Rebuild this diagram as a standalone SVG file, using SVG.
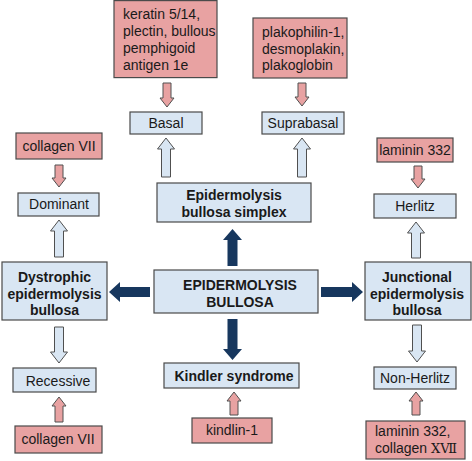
<svg xmlns="http://www.w3.org/2000/svg" width="472" height="461" viewBox="0 0 472 461">
<style>
.pink{fill:#e8a2a2;stroke:#4a4a4a;stroke-width:1.2}
.blue{fill:#d9e6f3;stroke:#4a4a4a;stroke-width:1.2}
.la{fill:#d9e6f3;stroke:#505050;stroke-width:1}
.pa{fill:#e8a2a2;stroke:#505050;stroke-width:1}
.da{fill:#17375e;stroke:none}
text{font-family:"Liberation Sans",Arial,sans-serif;font-size:14px;fill:#1a1a1a}
.c{text-anchor:middle}
.b{font-weight:bold}
</style>
<rect width="472" height="461" fill="#ffffff"/>
<g id="connectors">
<!-- light blue up arrows -->
<path class="la" d="M161.5,177 V149 H157.5 L166,138 L174.5,149 H170.5 V177 Z"/>
<path class="la" d="M297.5,177 V149 H293.5 L302,138 L310.5,149 H306.5 V177 Z"/>
<path class="la" d="M54.5,257 V231 H50.5 L59,220 L67.5,231 H63.5 V257 Z"/>
<path class="la" d="M411.5,258 V233 H407.5 L416,222 L424.5,233 H420.5 V258 Z"/>
<!-- light blue down arrows -->
<path class="la" d="M54.5,327 V352 H50.5 L59,363 L67.5,352 H63.5 V327 Z"/>
<path class="la" d="M412.5,325 V351 H408.5 L417,362 L425.5,351 H421.5 V325 Z"/>
<!-- pink down arrows -->
<path class="pa" d="M163,83 V98 H160 L167,107 L174,98 H171 V83 Z"/>
<path class="pa" d="M298,83 V97 H295 L302,106 L309,97 H306 V83 Z"/>
<path class="pa" d="M55,165 V178 H52 L59,187 L66,178 H63 V165 Z"/>
<path class="pa" d="M414,166 V179 H411 L418,188 L425,179 H422 V166 Z"/>
<!-- pink up arrows -->
<path class="pa" d="M55,422 V406 H52 L59,397 L66,406 H63 V422 Z"/>
<path class="pa" d="M230,415 V401 H227 L234,392 L241,401 H238 V415 Z"/>
<path class="pa" d="M412,415 V401 H409 L416,392 L423,401 H420 V415 Z"/>
<!-- dark arrows -->
<path class="da" d="M227.5,266 V240 H223 L232.5,229 L242,240 H237.5 V266 Z"/>
<path class="da" d="M227.5,319 V349 H223 L232.5,360 L242,349 H237.5 V319 Z"/>
<path class="da" d="M150,287 H120 V282 L109,292 L120,302 V297 H150 Z"/>
<path class="da" d="M321,287 H352 V282 L363,292 L352,302 V297 H321 Z"/>
</g>
<g id="keratin">
<rect class="pink" x="114" y="0.6" width="103" height="77"/>
<text x="123" y="19">keratin 5/14,</text>
<text x="123" y="36">plectin, bullous</text>
<text x="123" y="53">pemphigoid</text>
<text x="123" y="70">antigen 1e</text>
</g>
<g id="plakophilin">
<rect class="pink" x="253" y="18" width="94" height="60"/>
<text x="262" y="37">plakophilin-1,</text>
<text x="262" y="54">desmoplakin,</text>
<text x="262" y="70">plakoglobin</text>
</g>
<g id="basal">
<rect class="blue" x="130" y="112" width="72" height="22"/>
<text class="c" x="166" y="128">Basal</text>
</g>
<g id="suprabasal">
<rect class="blue" x="262" y="112" width="82" height="22"/>
<text class="c" x="303" y="128">Suprabasal</text>
</g>
<g id="simplex">
<rect class="blue" x="157" y="183" width="154" height="39"/>
<text class="c b" x="234" y="200">Epidermolysis</text>
<text class="c b" x="234" y="217">bullosa simplex</text>
</g>
<g id="eb">
<rect class="blue" x="154" y="270" width="164" height="43"/>
<text class="c b" x="240" y="290">EPIDERMOLYSIS</text>
<text class="c b" x="240" y="307">BULLOSA</text>
</g>
<g id="collagen7-top">
<rect class="pink" x="16" y="133" width="86" height="26"/>
<text class="c" x="59" y="151">collagen VII</text>
</g>
<g id="dominant">
<rect class="blue" x="18" y="193" width="81" height="23"/>
<text class="c" x="59" y="209">Dominant</text>
</g>
<g id="dystrophic">
<rect class="blue" x="2" y="262" width="105" height="58"/>
<text class="c b" x="54.5" y="282">Dystrophic</text>
<text class="c b" x="54.5" y="299">epidermolysis</text>
<text class="c b" x="54.5" y="315">bullosa</text>
</g>
<g id="recessive">
<rect class="blue" x="13" y="368" width="83" height="24"/>
<text class="c" x="58" y="386">Recessive</text>
</g>
<g id="collagen7-bottom">
<rect class="pink" x="15" y="426" width="87" height="27"/>
<text class="c" x="58" y="444">collagen VII</text>
</g>
<g id="laminin332">
<rect class="pink" x="377" y="138" width="76" height="24"/>
<text class="c" x="415" y="155">laminin 332</text>
</g>
<g id="herlitz">
<rect class="blue" x="374" y="194" width="82" height="24"/>
<text class="c" x="415" y="211">Herlitz</text>
</g>
<g id="junctional">
<rect class="blue" x="365" y="262" width="106" height="58"/>
<text class="c b" x="417" y="282">Junctional</text>
<text class="c b" x="417" y="299">epidermolysis</text>
<text class="c b" x="417" y="315">bullosa</text>
</g>
<g id="nonherlitz">
<rect class="blue" x="374" y="367" width="82" height="22"/>
<text class="c" x="415" y="383">Non-Herlitz</text>
</g>
<g id="laminin-collagen17">
<rect class="pink" x="366" y="421" width="99" height="38"/>
<text x="375" y="436">laminin 332,</text>
<text x="375" y="453">collagen <tspan font-family="'DejaVu Serif','Noto Sans CJK JP',serif" font-size="13">ⅩⅦ</tspan></text>
</g>
<g id="kindler">
<rect class="blue" x="164" y="363" width="135" height="25"/>
<text class="c b" x="234" y="381">Kindler syndrome</text>
</g>
<g id="kindlin">
<rect class="pink" x="192" y="418" width="80" height="25"/>
<text class="c" x="232" y="435">kindlin-1</text>
</g>
</svg>
